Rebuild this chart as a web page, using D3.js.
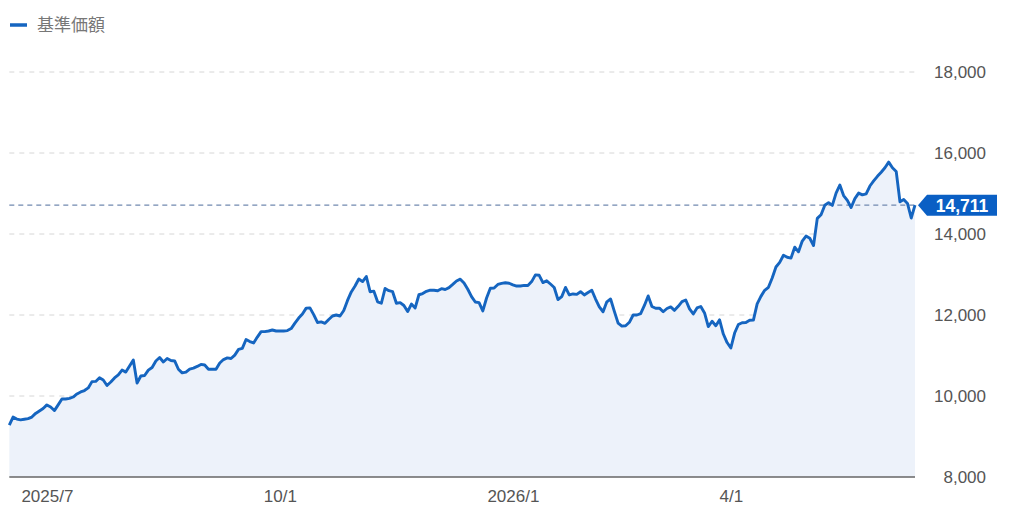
<!DOCTYPE html>
<html><head><meta charset="utf-8">
<script src="https://cdn.jsdelivr.net/npm/d3@7"></script>
<style>
html,body{margin:0;padding:0;background:#fff;}
svg{display:block;font-family:"Liberation Sans",Arial,"Noto Sans CJK JP",sans-serif;}
</style></head>
<body>
<svg id="chart" width="1024" height="527"></svg>
<script>
// ---- data ----
const seriesName = "基準価額";
const startDate = "2025-06-17";
const holidays = ["2025-07-21","2025-08-11","2025-09-15","2025-09-23","2025-10-13","2025-11-03","2025-11-24","2025-12-31","2026-01-01","2026-01-02","2026-01-12","2026-02-11","2026-02-23","2026-03-20","2026-04-29","2026-05-04","2026-05-05","2026-05-06"];
const navValues = [
9280,9480,9430,9410,9425,9440,9480,9570,9630,9690,
9780,9730,9640,9780,9925,9925,9940,9975,10050,10100,
10135,10200,10355,10360,10450,10395,10260,10345,10445,10520,
10640,10590,10740,10890,10320,10495,10505,10640,10705,10865,
10950,10840,10925,10875,10865,10660,10570,10590,10665,10690,
10730,10780,10765,10660,10660,10660,10815,10900,10940,10925,
11010,11150,11175,11395,11345,11310,11455,11590,11590,11605,
11630,11605,11605,11605,11615,11665,11800,11925,12025,12170,
12175,12010,11815,11830,11795,11890,11975,12000,11975,12110,
12360,12570,12715,12890,12825,12950,12575,12590,12325,12290,
12655,12600,12575,12290,12305,12235,12085,12270,12175,12500,
12530,12585,12615,12610,12600,12650,12630,12675,12755,12840,
12885,12790,12635,12455,12320,12305,12100,12420,12660,12665,
12755,12780,12795,12785,12745,12715,12715,12730,12730,12825,
12990,12980,12800,12845,12765,12680,12380,12455,12680,12495,
12520,12510,12575,12495,12555,12610,12395,12200,12080,12325,
12395,12090,11800,11725,11735,11820,12000,12000,12035,12235,
12470,12210,12165,12170,12080,12160,12200,12115,12215,12330,
12370,12150,12025,12175,12210,12050,11715,11845,11735,11880,
11530,11320,11185,11555,11765,11810,11815,11870,11875,12275,
12460,12610,12685,12915,13185,13300,13475,13425,13405,13675,
13560,13825,13950,13895,13715,14385,14475,14710,14775,14705,
15010,15210,14950,14830,14655,14875,15010,14965,14990,15185,
15310,15425,15525,15635,15775,15635,15545,14795,14850,14755,
14395,14711
];
const yTicks = [8000,10000,12000,14000,16000,18000];
const tickMonths = ["2025-07","2025-10","2026-01","2026-04"];
const tickLabels = ["2025/7","10/1","2026/1","4/1"];

// ---- trading days ----
const parse = d3.timeParse("%Y-%m-%d");
const fmtDay = d3.timeFormat("%Y-%m-%d");
const fmtMonth = d3.timeFormat("%Y-%m");
const holidaySet = new Set(holidays);
const dates = [];
let cur = parse(startDate);
while (dates.length < navValues.length) {
  const wd = cur.getDay();
  if (wd !== 0 && wd !== 6 && !holidaySet.has(fmtDay(cur))) dates.push(cur);
  cur = d3.timeDay.offset(cur, 1);
}
const data = navValues.map((v, i) => ({i, date: dates[i], value: v}));

// ---- layout ----
const svg = d3.select("#chart");
const plotL = 9.3, plotR = 915, plotT = 72, plotB = 477;
const x = d3.scaleLinear().domain([0, data.length - 1]).range([plotL, plotR]);
const y = d3.scaleLinear().domain([8000, 18000]).range([plotB, plotT]);
const blue = "#1565c0";

// gridlines
svg.append("g").selectAll("line")
  .data(yTicks.filter(t => t > 8000))
  .join("line")
  .attr("x1", plotL).attr("x2", 918)
  .attr("y1", t => y(t)).attr("y2", t => y(t))
  .attr("stroke", "#d6d6d6").attr("stroke-width", 1)
  .attr("stroke-dasharray", "5,5");

// area
svg.append("path").datum(data)
  .attr("fill", "#edf2fa")
  .attr("d", d3.area().x(p => x(p.i)).y0(plotB).y1(p => y(p.value)));

// current value line
const last = data[data.length - 1];
svg.append("line")
  .attr("x1", plotL).attr("x2", 918)
  .attr("y1", y(last.value)).attr("y2", y(last.value))
  .attr("stroke", "#7189b0").attr("stroke-width", 1.2)
  .attr("stroke-dasharray", "5,4");

// line
svg.append("path").datum(data)
  .attr("fill", "none").attr("stroke", blue).attr("stroke-width", 2.9)
  .attr("stroke-linejoin", "round")
  .attr("d", d3.line().x(p => x(p.i)).y(p => y(p.value)));

// baseline axis
const tickIdx = tickMonths.map(m => data.findIndex(p => fmtMonth(p.date) === m));
const xAxis = d3.axisBottom(x).tickValues(tickIdx)
  .tickFormat((v, k) => tickLabels[k]).tickSize(0).tickPadding(13);
const gx = svg.append("g").attr("transform", `translate(0,${plotB})`).call(xAxis);
gx.select(".domain").remove();
gx.selectAll("text").attr("fill", "#555").attr("font-size", 17);
svg.append("line").attr("x1", plotL).attr("x2", plotR)
  .attr("y1", plotB).attr("y2", plotB)
  .attr("stroke", "#666").attr("stroke-width", 1.6);

// y axis
const yAxis = d3.axisRight(y).tickValues(yTicks).tickFormat(d3.format(",")).tickSize(0).tickPadding(0);
const gy = svg.append("g").attr("transform", "translate(986,0)").call(yAxis);
gy.select(".domain").remove();
gy.selectAll("text").attr("text-anchor", "end").attr("x", 0)
  .attr("fill", "#555").attr("font-size", 17);

// value tag
const ty = y(last.value);
svg.append("path")
  .attr("d", `M918,${ty} L927,${ty-10.5} L997,${ty-10.5} L997,${ty+10.5} L927,${ty+10.5} Z`)
  .attr("fill", "#0a5fc4");
svg.append("text").attr("x", 962).attr("y", ty).attr("dy", "0.36em")
  .attr("text-anchor", "middle").attr("fill", "#fff")
  .attr("font-size", 17.5).attr("font-weight", 600)
  .text(d3.format(",")(last.value));

// legend
svg.append("line").attr("x1", 10).attr("x2", 27).attr("y1", 25).attr("y2", 25)
  .attr("stroke", blue).attr("stroke-width", 3.5);
svg.append("text").attr("x", 37).attr("y", 25).attr("dy", "0.35em")
  .attr("fill", "#777").attr("font-size", 17)
  .attr("font-family", "'Noto Sans CJK JP',sans-serif")
  .text(seriesName);
</script>
</body></html>
